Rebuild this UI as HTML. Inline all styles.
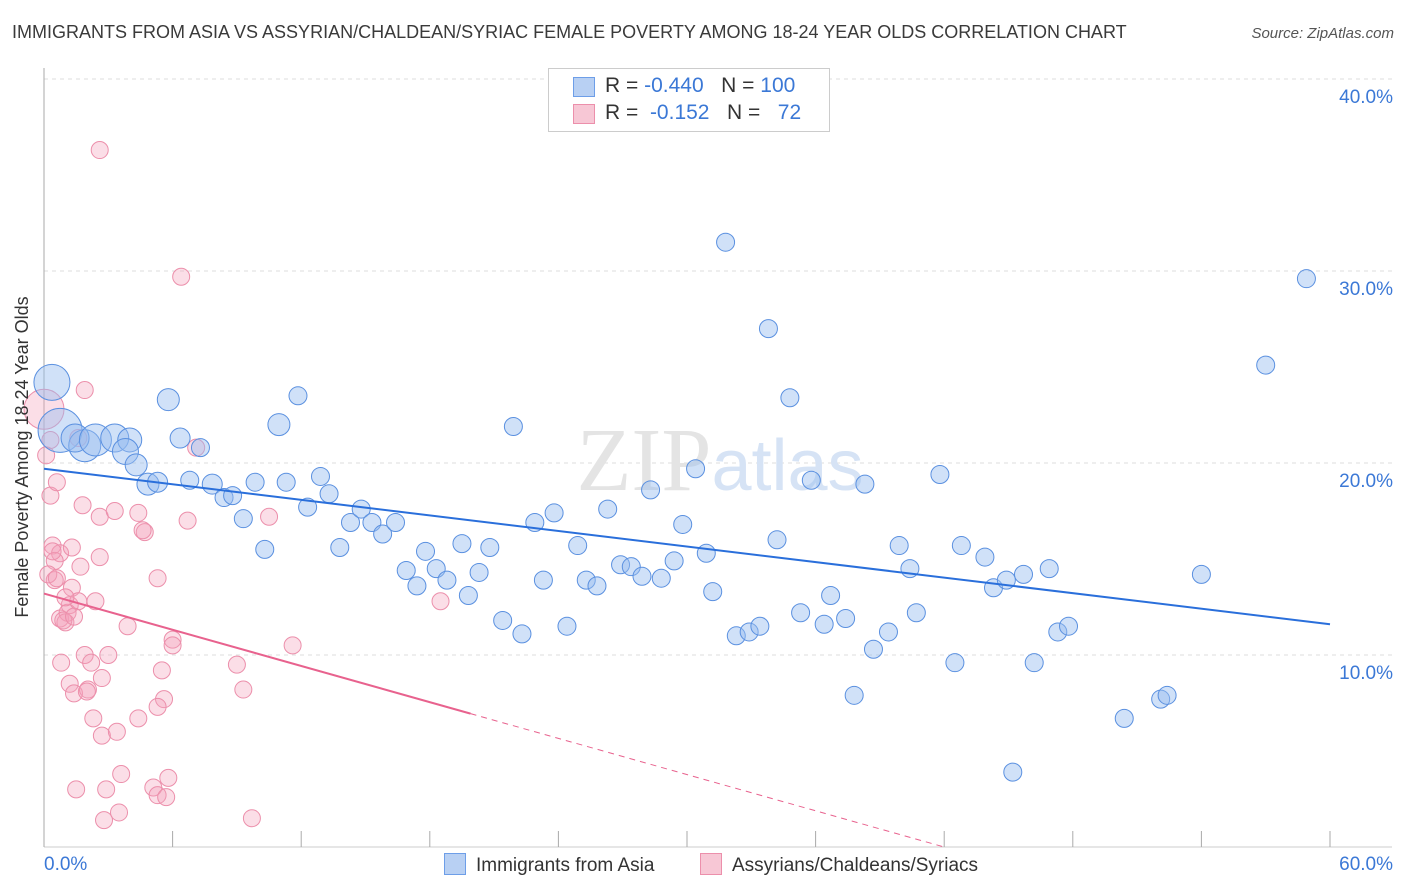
<!DOCTYPE html>
<html><head><meta charset="utf-8"><style>
body{margin:0;background:#fff;font-family:"Liberation Sans",sans-serif}
#wrap{position:relative;width:1406px;height:892px;overflow:hidden}
.t{position:absolute;white-space:nowrap}
</style></head><body><div id="wrap">
<div class="t" style="left:12px;top:22px;font-size:18px;color:#3a3a3a">IMMIGRANTS FROM ASIA VS ASSYRIAN/CHALDEAN/SYRIAC FEMALE POVERTY AMONG 18-24 YEAR OLDS CORRELATION CHART</div>
<div class="t" style="right:12px;top:25px;font-size:15px;color:#555;font-style:italic">Source: ZipAtlas.com</div>
<svg id="svg" width="1406" height="892" style="position:absolute;left:0;top:0"></svg>
<div style="position:absolute;left:548px;top:68px;width:280px;height:62px;border:1px solid #ccc;background:#fff;font-size:21px">
<div style="position:absolute;left:24px;top:8px;width:20px;height:18px;background:#b8d0f3;border:1px solid #6d9ee8"></div>
<div class="t" style="left:56px;top:5px;color:#333">R = <span style="color:#3b78d6">-0.440</span>&nbsp;&nbsp;&nbsp;N = <span style="color:#3b78d6">100</span></div>
<div style="position:absolute;left:24px;top:35px;width:20px;height:18px;background:#f7c7d5;border:1px solid #ec8fab"></div>
<div class="t" style="left:56px;top:32px;color:#333">R = &nbsp;<span style="color:#3b78d6">-0.152</span>&nbsp;&nbsp;&nbsp;N = &nbsp;&nbsp;<span style="color:#3b78d6">72</span></div>
</div>
<div style="position:absolute;left:444px;top:853px;font-size:19px;color:#333"><span style="display:inline-block;width:20px;height:20px;background:#b8d0f3;border:1px solid #6d9ee8;vertical-align:-4px;margin-right:10px"></span>Immigrants from Asia</div>
<div style="position:absolute;left:700px;top:853px;font-size:19px;color:#333"><span style="display:inline-block;width:20px;height:20px;background:#f7c7d5;border:1px solid #ec8fab;vertical-align:-4px;margin-right:10px"></span>Assyrians/Chaldeans/Syriacs</div>
</div>
<script>
const blueX=[0.37,0.75,1.9,1.45,2.4,3.3,4.0,3.8,4.3,4.85,5.3,5.8,6.35,6.8,7.3,7.85,8.4,8.8,9.3,9.85,10.3,10.96,11.3,11.85,12.3,12.9,13.3,13.8,14.3,14.8,15.3,15.8,16.4,16.9,17.4,17.8,18.3,18.8,19.5,19.8,20.3,20.8,21.4,21.9,22.3,22.9,23.3,23.8,24.4,24.9,25.3,25.8,26.3,26.9,27.4,27.9,28.3,28.8,29.4,29.8,30.4,30.9,31.2,31.8,32.3,32.9,33.4,33.8,34.2,34.8,35.3,35.8,36.4,36.7,37.4,37.8,38.3,38.7,39.4,39.9,40.4,40.7,41.8,42.5,42.8,43.9,44.3,44.9,45.2,45.7,46.2,46.9,47.3,47.8,50.4,52.1,52.4,54.0,57.0,58.9];
const blueY=[24.2,21.7,20.9,21.3,21.2,21.3,21.2,20.6,19.9,18.9,19.0,23.3,21.3,19.1,20.8,18.9,18.2,18.3,17.1,19.0,15.5,22.0,19.0,23.5,17.7,19.3,18.4,15.6,16.9,17.6,16.9,16.3,16.9,14.4,13.6,15.4,14.5,13.9,15.8,13.1,14.3,15.6,11.8,21.9,11.1,16.9,13.9,17.4,11.5,15.7,13.9,13.6,17.6,14.7,14.6,14.1,18.6,14.0,14.9,16.8,19.7,15.3,13.3,31.5,11.0,11.2,11.5,27.0,16.0,23.4,12.2,19.1,11.6,13.1,11.9,7.9,18.9,10.3,11.2,15.7,14.5,12.2,19.4,9.6,15.7,15.1,13.5,13.9,3.9,14.2,9.6,14.5,11.2,11.5,6.7,7.7,7.9,14.2,25.1,29.6];
const blueR=[18,22,16,14,16,14,12,13,11,11,10,11,10,9,9,10,9,9,9,9,9,11,9,9,9,9,9,9,9,9,9,9,9,9,9,9,9,9,9,9,9,9,9,9,9,9,9,9,9,9,9,9,9,9,9,9,9,9,9,9,9,9,9,9,9,9,9,9,9,9,9,9,9,9,9,9,9,9,9,9,9,9,9,9,9,9,9,9,9,9,9,9,9,9,9,9,9,9,9,9];
const pinkX=[0,0.1,0.3,0.6,1.9,2.6,6.4,1.6,7.1,0.4,0.75,0.5,1.3,0.5,1.8,2.6,3.3,4.4,4.7,2.6,1.7,1.3,1.2,0.75,1.1,1.0,1.6,2.4,3.9,5.3,6.7,10.5,18.5,6.0,6.0,11.6,1.9,0.8,2.2,1.2,1.4,2.05,2.7,5.5,9.0,9.3,5.6,5.3,2.3,2.7,3.4,4.4,3.6,5.8,1.5,2.9,5.1,5.3,5.7,2.8,3.5,9.7,0.3,0.2,1.0,0.9,2.0,4.6,1.4,0.6,3.0,0.4];
const pinkY=[22.8,20.4,18.3,19.0,23.8,36.3,29.7,21.3,20.8,15.7,15.3,14.9,15.6,13.9,17.8,17.2,17.5,17.4,16.4,15.1,14.6,13.5,12.6,11.9,12.2,11.7,12.8,12.8,11.5,14.0,17.0,17.2,12.8,10.8,10.5,10.5,10.0,9.6,9.6,8.5,8.0,8.2,8.8,9.2,9.5,8.2,7.7,7.3,6.7,5.8,6.0,6.7,3.8,3.6,3.0,3.0,3.1,2.7,2.6,1.4,1.8,1.5,21.2,14.2,13.0,11.8,8.1,16.5,12.0,14.0,10.0,15.4];
const axisXTicks=[0,6,12,18,24,30,36,42,48,54,60];
const yTicks=[10,20,30,40];
const blueTrend=[19.7,11.6];
const pinkTrend=[13.2,0];
const X=v=>44+v*(1330-44)/60, Y=v=>847-v*19.2;
const s=document.getElementById('svg'),NS='http://www.w3.org/2000/svg';
function mk(t,a,p){const e=document.createElementNS(NS,t);for(const k in a)e.setAttribute(k,a[k]);(p||s).appendChild(e);return e;}
yTicks.forEach(v=>{const g=mk('line',{x1:44,x2:1392,y1:Y(v),y2:Y(v),stroke:'#ddd','stroke-dasharray':'4,4'});


const t=mk('text',{x:1393,y:Y(v)+24,'text-anchor':'end','font-size':19,fill:'#3b78d6','font-family':'Liberation Sans'});t.textContent=v.toFixed(1)+'%';

});
const wm=mk('text',{x:720,y:490,'text-anchor':'middle','font-size':90,fill:'#e4e4e4','font-family':'Liberation Serif'});wm.innerHTML='ZIP<tspan fill="#d6e3f5" font-family="Liberation Sans" font-size="72">atlas</tspan>';


mk('line',{x1:44,x2:44,y1:68,y2:847,stroke:'#aaa'});
mk('line',{x1:44,x2:1392,y1:847,y2:847,stroke:'#ccc'});
axisXTicks.forEach(v=>{const l=mk('line',{x1:X(v),x2:X(v),y1:831,y2:847,stroke:'#aaa'});

});
const x0=mk('text',{x:44,y:870,'font-size':19,fill:'#3b78d6','font-family':'Liberation Sans'});x0.textContent='0.0%';


const x1=mk('text',{x:1393,y:870,'text-anchor':'end','font-size':19,fill:'#3b78d6','font-family':'Liberation Sans'});x1.textContent='60.0%';


pinkX.forEach((v,i)=>{const c=mk('circle',{cx:X(v),cy:Y(pinkY[i]),r:i==0?20:8.5,fill:'rgba(244,160,185,0.35)',stroke:'#ec8fab','stroke-width':1});

});
blueX.forEach((v,i)=>{const c=mk('circle',{cx:X(v),cy:Y(blueY[i]),r:blueR[i],fill:'rgba(150,188,240,0.45)',stroke:'#5a90e0','stroke-width':1});

});
const bl=mk('line',{x1:X(0),y1:Y(blueTrend[0]),x2:X(60),y2:Y(blueTrend[1]),stroke:'#2a6fdb','stroke-width':2});


const pk=v=>pinkTrend[0]+(pinkTrend[1]-pinkTrend[0])*v/42;
const pl=mk('line',{x1:X(0),y1:Y(pk(0)),x2:X(19.9),y2:Y(pk(19.9)),stroke:'#e8628e','stroke-width':2});


const pd=mk('line',{x1:X(19.9),y1:Y(pk(19.9)),x2:X(42),y2:Y(pk(42)),stroke:'#e8628e','stroke-width':1,'stroke-dasharray':'6,5'});


const yt=mk('text',{x:28,y:457,'text-anchor':'middle','font-size':18,fill:'#333','font-family':'Liberation Sans',transform:'rotate(-90 28 457)'});yt.textContent='Female Poverty Among 18-24 Year Olds';


</script></body></html>
